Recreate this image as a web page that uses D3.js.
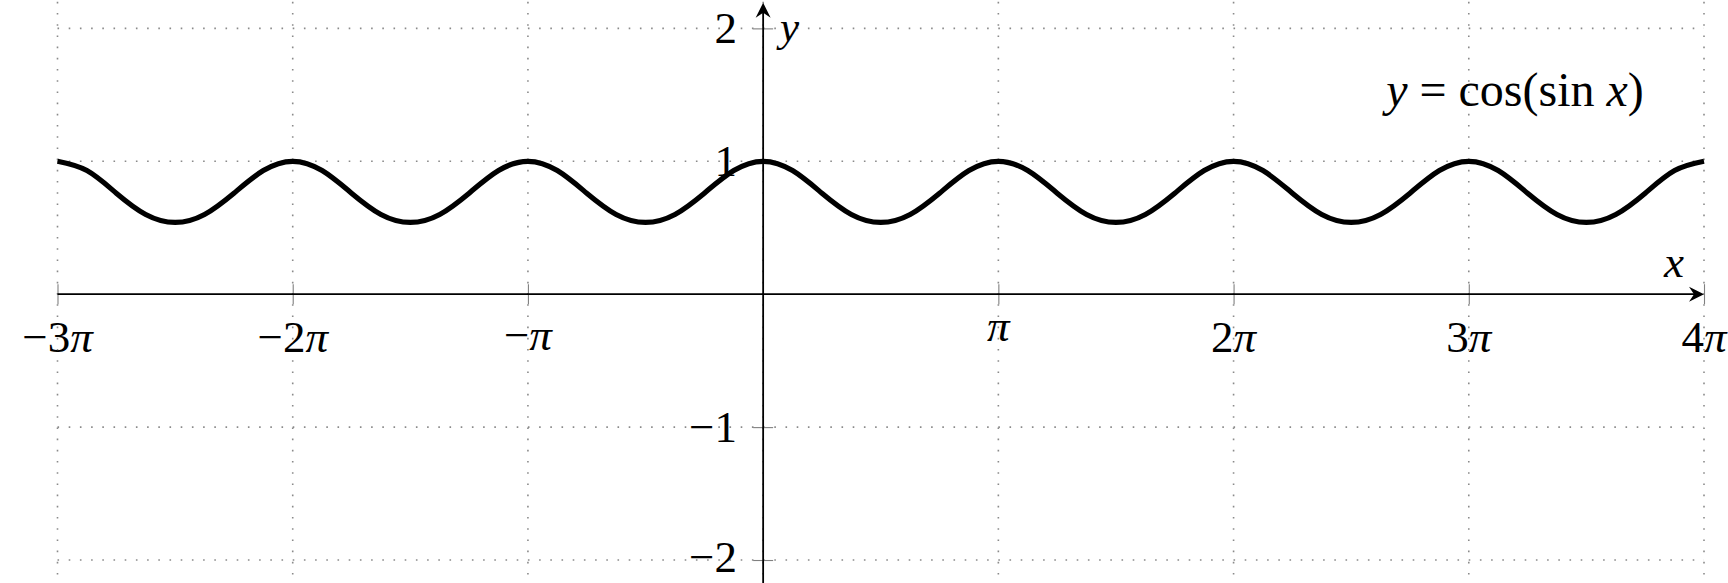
<!DOCTYPE html>
<html>
<head>
<meta charset="utf-8">
<script src="https://cdn.jsdelivr.net/npm/d3@7/dist/d3.min.js"></script>
<style>
  html, body { margin: 0; padding: 0; background: #fff; }
  svg { display: block; }
  text { font-family: "Liberation Serif", "Times New Roman", serif; fill: #000; }
</style>
</head>
<body>
<script>
// ---- data ----
// x positions in eighths of pi, from -3π to 4π
const xEighthsOfPi = [
  -24,-23,-22,-21,-20,-19,-18,-17,
  -16,-15,-14,-13,-12,-11,-10,-9,
  -8,-7,-6,-5,-4,-3,-2,-1,
  0,1,2,3,4,5,6,7,
  8,9,10,11,12,13,14,15,
  16,17,18,19,20,21,22,23,
  24,25,26,27,28,29,30,31,
  32
];
// y = cos(sin x) values read at those positions
const yValues = [
  1.00,0.93,0.76,0.60,0.54,0.60,0.76,0.93,
  1.00,0.93,0.76,0.60,0.54,0.60,0.76,0.93,
  1.00,0.93,0.76,0.60,0.54,0.60,0.76,0.93,
  1.00,0.93,0.76,0.60,0.54,0.60,0.76,0.93,
  1.00,0.93,0.76,0.60,0.54,0.60,0.76,0.93,
  1.00,0.93,0.76,0.60,0.54,0.60,0.76,0.93,
  1.00,0.93,0.76,0.60,0.54,0.60,0.76,0.93,
  1.00
];
const xTickMultiples = [-3, -2, -1, 1, 2, 3, 4];
const xTickLabels = ["−3π", "−2π", "−π", "π", "2π", "3π", "4π"];
const xGridMultiples = [-3, -2, -1, 0, 1, 2, 3, 4];
const yTickValues = [-2, -1, 1, 2];
const yTickLabels = ["−2", "−1", "1", "2"];
const yGridValues = [-2, -1, 1, 2];
const xDomainMultiples = [-3, 4];
const yDomain = [-2.2, 2.2];
const titleParts = ["y", " = ", "cos(sin ", "x", ")"];
const axisLabelX = "x", axisLabelY = "y";

// ---- layout ----
const W = 1728, H = 583;
const PI = Math.PI;
const x = d3.scaleLinear().domain(xDomainMultiples.map(m => m * PI)).range([57.5, 1704]);
const y = d3.scaleLinear().domain(yDomain).range([586.6, 1.8]);
const x0 = x(0), y0 = y(0);

const svg = d3.select("body").append("svg").attr("width", W).attr("height", H);

// grid
const grid = svg.append("g")
  .attr("stroke", "#8a8a8a").attr("stroke-width", 1.6)
  .attr("stroke-dasharray", "1.6 9.6").attr("fill", "none");
grid.selectAll("line.v").data(xGridMultiples).join("line")
  .attr("x1", d => x(d * PI)).attr("x2", d => x(d * PI))
  .attr("y1", y(yDomain[1])).attr("y2", y(yDomain[0]));
grid.selectAll("line.h").data(yGridValues).join("line")
  .attr("x1", x(xDomainMultiples[0] * PI)).attr("x2", x(xDomainMultiples[1] * PI))
  .attr("y1", d => y(d)).attr("y2", d => y(d));

// ticks via d3 axes (symmetric, gray)
const tickLen = 20;
const xAxis = d3.axisBottom(x).tickValues(xTickMultiples.map(m => m * PI))
  .tickSize(tickLen).tickFormat("");
const gx = svg.append("g").attr("transform", `translate(0,${y0 - tickLen / 2})`).call(xAxis);
gx.select(".domain").remove();
gx.selectAll(".tick line").attr("stroke", "#808080").attr("stroke-width", 1.1);

const yAxis = d3.axisLeft(y).tickValues(yTickValues).tickSize(tickLen).tickFormat("");
const gy = svg.append("g").attr("transform", `translate(${x0 + tickLen / 2},0)`).call(yAxis);
gy.select(".domain").remove();
gy.selectAll(".tick line").attr("stroke", "#808080").attr("stroke-width", 1.1);

// curve
const pts = xEighthsOfPi.map((e, i) => [e * PI / 8, yValues[i]]);
const line = d3.line().x(d => x(d[0])).y(d => y(d[1])).curve(d3.curveNatural);
svg.append("path").datum(pts).attr("d", line)
  .attr("fill", "none").attr("stroke", "#000").attr("stroke-width", 5.2)
  .attr("stroke-linejoin", "round");

// axes lines
const axisW = 1.8;
const xEnd = x(xDomainMultiples[1] * PI);
const yTop = 2.7;
svg.append("line").attr("x1", x(xDomainMultiples[0] * PI)).attr("x2", xEnd - 6)
  .attr("y1", y0).attr("y2", y0).attr("stroke", "#000").attr("stroke-width", axisW);
svg.append("line").attr("x1", x0).attr("x2", x0)
  .attr("y1", H + 5).attr("y2", yTop + 6).attr("stroke", "#000").attr("stroke-width", axisW);
const arrow = "M0,0 L-15,-7.5 L-10,0 L-15,7.5 Z";
svg.append("path").attr("d", arrow).attr("transform", `translate(${xEnd},${y0})`).attr("fill", "#000");
svg.append("path").attr("d", arrow).attr("transform", `translate(${x0},${yTop}) rotate(-90)`).attr("fill", "#000");

// tick labels
const fs = 45;
function addMath(sel, str) {
  for (const ch of str) {
    sel.append("tspan").text(ch).attr("font-style", ch === "π" ? "italic" : "normal");
  }
}
xTickMultiples.forEach((m, i) => {
  const lab = xTickLabels[i];
  const hasDigit = /[0-9]/.test(lab);
  const hasMinus = lab.includes("−");
  const base = hasDigit ? 352 : (hasMinus ? 350 : 341);
  const t = svg.append("text").attr("x", x(m * PI)).attr("y", base)
    .attr("text-anchor", "middle").attr("font-size", fs);
  addMath(t, lab);
});
yTickValues.forEach((v, i) => {
  svg.append("text").attr("x", 737).attr("y", Math.min(y(v) + 15, 572))
    .attr("text-anchor", "end").attr("font-size", fs).text(yTickLabels[i]);
});

// axis labels
svg.append("text").attr("x", 780).attr("y", 41).attr("font-size", fs - 2)
  .attr("font-style", "italic").text(axisLabelY);
svg.append("text").attr("x", 1674).attr("y", 277).attr("font-size", fs)
  .attr("text-anchor", "middle").attr("font-style", "italic").text(axisLabelX);

// title  y = cos(sin x)
const titleItalic = [true, false, false, true, false];
const title = svg.append("text").attr("x", 1515).attr("y", 106).attr("font-size", 48)
  .attr("text-anchor", "middle").attr("xml:space", "preserve").style("white-space", "pre");
titleParts.forEach((p, i) => {
  title.append("tspan").attr("font-style", titleItalic[i] ? "italic" : "normal").text(p);
});
</script>
</body>
</html>
